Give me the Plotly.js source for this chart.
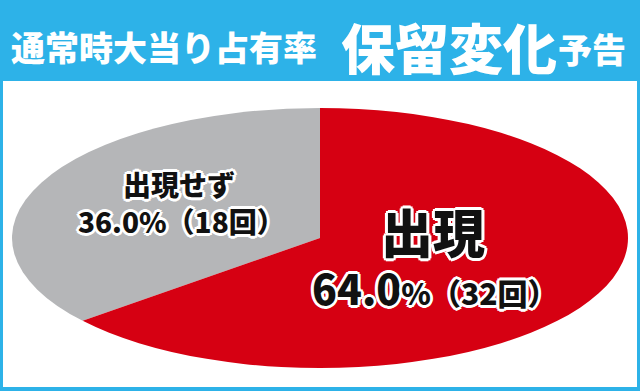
<!DOCTYPE html>
<html><head><meta charset="utf-8">
<script src="https://cdn.plot.ly/plotly-3.0.1.min.js"></script>
<style>html,body{margin:0;padding:0;background:#fff}#chart{width:640px;height:391px}</style>
</head><body><div id="chart"></div>
<script>
const labels = ['出現せず', '出現'];
const values = [18, 32];
const sliceColors = ['#B5B6B8', '#D60012'];
const titleMain = '通常時大当り占有率';
const titleBig = '保留変化';
const titleTail = '予告';
const countUnit = '回';

const total = values.reduce((a, b) => a + b, 0);
const pct = values.map(v => (v / total * 100).toFixed(1));

const W = 640, H = 391;
const blue = '#2DB2E8';
const cx = 320, cy = 238, ry = 130, rx = 308;
const fam = '"Noto Sans CJK JP", "Noto Sans", sans-serif';
const outline = '2px 0 0 #fff, -2px 0 0 #fff, 0 2px 0 #fff, 0 -2px 0 #fff, 2px 2px 0 #fff, -2px -2px 0 #fff, 2px -2px 0 #fff, -2px 2px 0 #fff, 3px 0 0 #fff, -3px 0 0 #fff, 0 3px 0 #fff, 0 -3px 0 #fff';

const px = x => x / W;
const py = y => 1 - y / H;

const data = [{
  type: 'pie',
  labels: labels,
  values: values,
  sort: false,
  direction: 'clockwise',
  rotation: -(values[0] / total * 360),
  marker: {colors: sliceColors, line: {width: 0}},
  textinfo: 'none',
  hoverinfo: 'skip',
  showlegend: false,
  domain: {x: [0.25, 0.75], y: [py(cy + ry), py(cy - ry)]}
}];

const annFont = (size) => ({family: fam, size: size, color: '#111', weight: 900, shadow: outline});
const hdrFont = (size) => ({family: fam, size: size, color: '#fff', weight: 900});
const ann = (x, y, text, font) => ({xref: 'paper', yref: 'paper', x: px(x), y: py(y), xanchor: 'center', yanchor: 'middle', showarrow: false, text: text, font: font});

const layout = {
  width: W, height: H,
  margin: {l: 0, r: 0, t: 0, b: 0},
  paper_bgcolor: blue,
  plot_bgcolor: 'rgba(0,0,0,0)',
  showlegend: false,
  shapes: [{
    type: 'rect', xref: 'paper', yref: 'paper', layer: 'below',
    x0: px(3), x1: px(637), y0: py(387), y1: py(81),
    fillcolor: '#fff', line: {width: 0}
  }],
  annotations: [
    ann(164, 47, titleMain, hdrFont(34)),
    ann(449, 46, titleBig, hdrFont(54)),
    ann(592, 48, titleTail, hdrFont(34)),
    ann(179, 184, labels[0], annFont(28)),
    ann(181, 221, pct[0] + '%（' + values[0] + countUnit + '）', annFont(28)),
    ann(433, 231, labels[1], annFont(52)),
    ann(434, 287, pct[1] + '<span style="font-size:30px">%（' + values[1] + countUnit + '）</span>', annFont(41))
  ]
};

Plotly.newPlot('chart', data, layout, {staticPlot: true, displayModeBar: false}).then(gd => {
  const s = rx / ry;
  const pl = gd.querySelector('.pielayer');
  if (pl) pl.setAttribute('transform', `translate(${cx},${cy}) scale(${s},1) translate(${-cx},${-cy})`);
});
</script></body></html>
